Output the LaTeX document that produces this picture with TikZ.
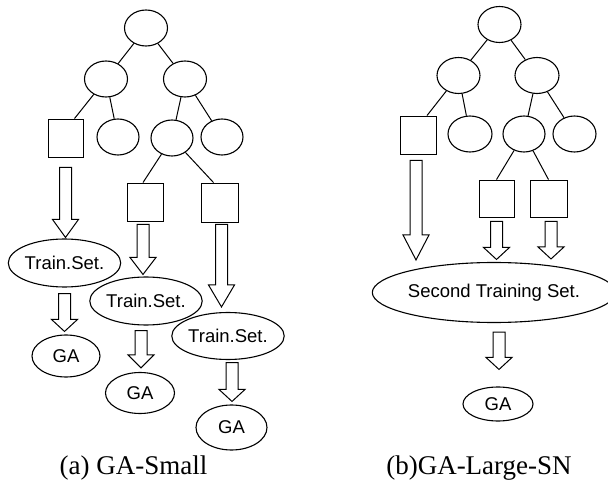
\documentclass[tikz,border=0pt]{standalone}
\usepackage{fontspec}
\setmainfont{Liberation Serif}
\setsansfont{Liberation Sans}
\usetikzlibrary{shapes.geometric,calc}

\tikzset{
  oval/.style={draw, ellipse, inner sep=0pt, line width=1.1pt, minimum width=43pt, minimum height=36pt},
  leaf/.style={draw, rectangle, inner sep=0pt, line width=0.9pt, minimum width=36pt, minimum height=38pt},
  setoval/.style={oval, font=\sffamily\fontsize{18.5}{20}\selectfont},
  edge/.style={line width=1pt},
  hollow/.style={line width=1pt, line join=miter},
  caption/.style={anchor=base, font=\rmfamily\fontsize{27}{30}\selectfont}
}

% block arrow: optional head length, shaft top point, tip point
\newcommand{\hollowarrow}[3][16]{%
  \draw[hollow] let \p1=(#2), \p2=(#3) in
    (\x1-6pt,\y1) -- (\x1-6pt,\y2+#1pt) -- (\x1-13pt,\y2+#1pt) -- (\x1,\y2)
    -- (\x1+13pt,\y2+#1pt) -- (\x1+6pt,\y2+#1pt) -- (\x1+6pt,\y1) -- cycle;}

\begin{document}
\begin{tikzpicture}[x=1pt, y=-1pt]
  \useasboundingbox (0,0) rectangle (608,481);

  % (a) GA-Small
  \begin{scope}
    \node[oval] (root) at (146,28) {};
    \node[oval] (lft) at (106,79) {};
    \node[oval] (rgt) at (185,79) {};

    \node[leaf, minimum width=35pt] (sq1) at (65.5,138) {};
    \node[oval, minimum width=42pt] (e2) at (118,137) {};
    \node[oval, minimum width=42pt] (e3) at (172,138) {};
    \node[oval, minimum width=42pt] (e4) at (222,137) {};

    \node[leaf] (sq3) at (145,202) {};
    \node[leaf, minimum width=37pt, minimum height=39pt] (sq4) at (219.5,202.5) {};

    \node[setoval, minimum width=99pt, minimum height=48pt] (ts1) at (64.5,263) {Train.Set.};
    \node[setoval, minimum width=99pt, minimum height=48pt] (ts2) at (146,301) {Train.Set.};
    \node[setoval, minimum width=98pt, minimum height=47pt] (ts3) at (228,336) {Train.Set.};

    \node[setoval, minimum width=68pt, minimum height=42pt] (ga1) at (66,356) {GA};
    \node[setoval, minimum width=69pt, minimum height=41pt] (ga2) at (140,393) {GA};
    \node[setoval, minimum width=71pt, minimum height=45pt] (ga3) at (231.5,427.5) {GA};

    \draw[edge] (root) -- (lft);
    \draw[edge] (root) -- (rgt);
    \draw[edge] (lft) -- ([xshift=9]sq1.north);
    \draw[edge] (lft) -- (e2);
    \draw[edge] (rgt) -- (e3);
    \draw[edge] (rgt) -- (e4);
    \draw[edge] (e3) -- ([xshift=-2]sq3.north);
    \draw[edge] (e3) -- ([xshift=-6]sq4.north);

    \hollowarrow[18]{[yshift=-10]sq1.south}{[yshift=1]ts1.north}
    \hollowarrow[12]{[yshift=-6]ts1.south}{[yshift=3]ga1.north}
    \hollowarrow[17]{[xshift=-2,yshift=-3]sq3.south}{[yshift=2]ts2.north}
    \hollowarrow[13]{[xshift=-5,yshift=-5]ts2.south}{[yshift=4]ga2.north}
    \hollowarrow[22]{[xshift=2,yshift=-2]sq4.south}{[yshift=5]ts3.north}
    \hollowarrow[12]{[xshift=4,yshift=-2.5]ts3.south}{[yshift=3]ga3.north}

    \node[caption] (capa) at (133.5,474) {(a) GA-Small};
  \end{scope}

  % (b) GA-Large-SN
  \begin{scope}
    \node[oval] (rroot) at (499.5,24.5) {};
    \node[oval] (rlft) at (458.5,75.5) {};
    \node[oval, minimum width=44pt] (rrgt) at (537,75.5) {};

    \node[leaf] (rsq1) at (418,135) {};
    \node[oval, minimum width=44pt] (re2) at (470,134) {};
    \node[oval, minimum width=42pt] (re3) at (524,134) {};
    \node[oval] (re4) at (574.5,134) {};

    \node[leaf, minimum width=35pt, minimum height=37pt] (rsq2) at (496.5,198.5) {};
    \node[leaf, minimum width=37pt, minimum height=37pt] (rsq3) at (548.5,198.5) {};

    \node[setoval, minimum width=224pt, minimum height=60pt] (sts) at (494,292.5) {Second Training Set.};
    \node[setoval, minimum width=70pt, minimum height=34pt] (rga) at (498,404) {GA};

    \draw[edge] (rroot) -- (rlft);
    \draw[edge] (rroot) -- (rrgt);
    \draw[edge] (rlft) -- ([xshift=9]rsq1.north);
    \draw[edge] (rlft) -- (re2);
    \draw[edge] (rrgt) -- (re3);
    \draw[edge] (rrgt) -- (re4);
    \draw[edge] (re3) -- (rsq2.north);
    \draw[edge] (re3) -- (rsq3.north);

    \hollowarrow[25]{[xshift=-2,yshift=-6]rsq1.south}{[yshift=2]sts.north}
    \hollowarrow[12]{[yshift=-4]rsq2.south}{[yshift=2.5]sts.north}
    \hollowarrow[12]{[xshift=2.5,yshift=-4]rsq3.south}{[yshift=3]sts.north}
    \hollowarrow[12]{[xshift=5,yshift=-9]sts.south}{[yshift=17]rga.north}

    \node[caption] (capb) at (479,474) {(b)GA-Large-SN};
  \end{scope}
\end{tikzpicture}
\end{document}
